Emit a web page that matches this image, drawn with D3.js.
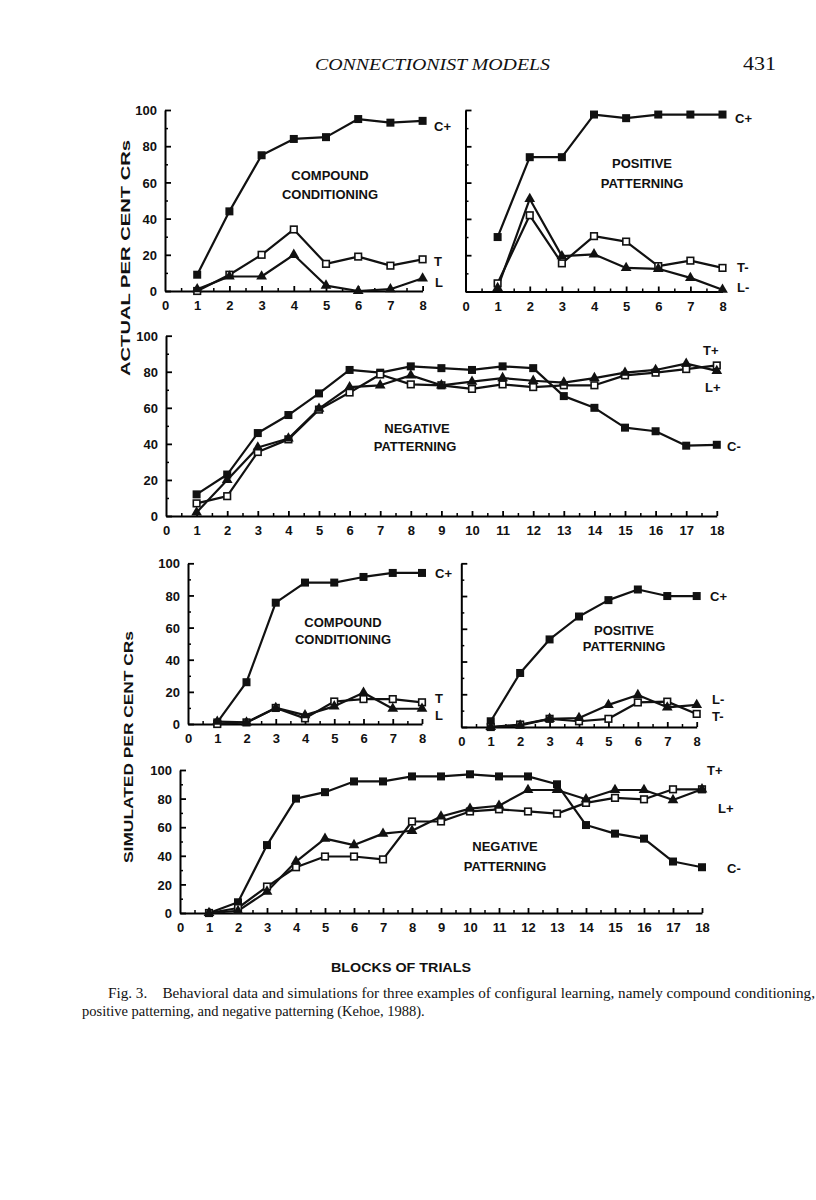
<!DOCTYPE html>
<html>
<head>
<meta charset="utf-8">
<script src="https://cdn.jsdelivr.net/npm/d3@7/dist/d3.min.js"></script>
<style>
  html, body { margin: 0; padding: 0; background: #fff; }
  svg { display: block; }
  .tick text { font-family: "Liberation Sans", Arial, sans-serif; font-weight: bold; font-size: 13px; fill: #111; }
  .lbl { font-family: "Liberation Sans", Arial, sans-serif; font-weight: bold; font-size: 13px; fill: #111; }
  .cap { white-space: pre; }
</style>
</head>
<body>
<script>
// ---------- DATA ----------
const blocks8 = [1, 2, 3, 4, 5, 6, 7, 8];
const blocks18 = [1, 2, 3, 4, 5, 6, 7, 8, 9, 10, 11, 12, 13, 14, 15, 16, 17, 18];
const yTicks = [0, 20, 40, 60, 80, 100];
const xTicks8 = [0, 1, 2, 3, 4, 5, 6, 7, 8];
const xTicks18 = [0, 1, 2, 3, 4, 5, 6, 7, 8, 9, 10, 11, 12, 13, 14, 15, 16, 17, 18];

// Actual: compound conditioning
const actCC_C = [9, 44, 75, 84, 85, 95, 93, 94];
const actCC_T = [0, 9, 20, 34, 15, 19, 14, 17.5];
const actCC_L = [1, 8, 8, 20, 3, 0, 1, 7];
// Actual: positive patterning
const actPP_C = [30, 74, 74, 97.5, 95.5, 97.5, 97.5, 97.5];
const actPP_T = [4.5, 42, 15.5, 30.5, 27.5, 14, 17, 13];
const actPP_L = [2, 51, 19.5, 20.5, 13, 12.5, 7.5, 1];
// Actual: negative patterning
const actNP_C = [12, 23, 46, 56, 68, 81, 79.5, 83, 82, 81, 83, 82, 66.5, 60, 49, 47, 39, 39.5];
const actNP_T = [7, 11, 35.5, 42.5, 59, 68.5, 78.5, 73, 72.5, 70.5, 73, 71.5, 72.5, 72.5, 78, 79.5, 81.5, 83.5];
const actNP_L = [2, 20, 38, 43, 59.5, 71.5, 72.5, 78, 72.5, 74.5, 76.5, 75, 74, 76.5, 79.5, 81, 84.5, 80.5];
// Simulated: compound conditioning
const simCC_C = [1, 26, 75.5, 88, 88, 91.5, 94, 94];
const simCC_T = [0, 1, 10, 3.5, 14, 15.5, 15.5, 13.5];
const simCC_L = [1.5, 1, 10, 5.5, 11, 19.5, 9.5, 9.5];
// Simulated: positive patterning
const simPP_C = [3.5, 33, 53.5, 67.5, 77.5, 84, 80, 80];
const simPP_T = [0, 1.5, 5, 3.5, 5, 15, 15.5, 8];
const simPP_L = [0, 1, 5, 5.5, 13.5, 19.5, 12, 13.5];
// Simulated: negative patterning
const simNP_C = [0, 7.5, 47.5, 80, 84.5, 92, 92, 95.5, 95.5, 97, 95.5, 95.5, 90, 61.5, 55.5, 52, 36, 32];
const simNP_T = [0, 3.5, 18.5, 32, 39.5, 39.5, 37.5, 64, 64, 71, 72.5, 71, 69.5, 77, 80.5, 79.5, 86.5, 86.5];
const simNP_L = [0, 1.5, 15, 36, 52, 47.5, 55.5, 57.5, 67.5, 73, 75, 86, 86, 79.5, 86, 86, 79, 86.5];

// ---------- LAYOUT ----------
const W = 816, H = 1200;
const svg = d3.select("body").append("svg").attr("width", W).attr("height", H);

const panels = [
  { x0: 165, x1: 422.6, y0: 291, y1: 110, blocks: blocks8, xt: xTicks8, yLab: true,
    series: [["sq", actCC_C], ["open", actCC_T], ["tri", actCC_L]],
    labels: [["C+", 434, 131], ["T", 434, 266], ["L", 435, 287]],
    title: [["COMPOUND", 330, 180], ["CONDITIONING", 330, 199]] },
  { x0: 465.5, x1: 722.5, y0: 291.5, y1: 110, blocks: blocks8, xt: xTicks8, yLab: false,
    series: [["sq", actPP_C], ["open", actPP_T], ["tri", actPP_L]],
    labels: [["C+", 735, 123], ["T-", 737, 272], ["L-", 737, 292]],
    title: [["POSITIVE", 642, 168], ["PATTERNING", 642, 188]] },
  { x0: 166, x1: 716.8, y0: 516, y1: 335.7, blocks: blocks18, xt: xTicks18, yLab: true,
    series: [["sq", actNP_C], ["open", actNP_T], ["tri", actNP_L]],
    labels: [["T+", 703, 355], ["L+", 705, 392], ["C-", 727, 451]],
    title: [["NEGATIVE", 417, 433], ["PATTERNING", 415, 451]] },
  { x0: 188, x1: 422, y0: 724, y1: 563.3, blocks: blocks8, xt: xTicks8, yLab: true,
    series: [["sq", simCC_C], ["open", simCC_T], ["tri", simCC_L]],
    labels: [["C+", 435, 578], ["T", 435, 703], ["L", 435, 720]],
    title: [["COMPOUND", 343, 627], ["CONDITIONING", 343, 644]] },
  { x0: 461.3, x1: 696.7, y0: 727, y1: 563.3, blocks: blocks8, xt: xTicks8, yLab: false,
    series: [["sq", simPP_C], ["open", simPP_T], ["tri", simPP_L]],
    labels: [["C+", 710, 601], ["L-", 712, 704], ["T-", 712, 721]],
    title: [["POSITIVE", 624, 635], ["PATTERNING", 624, 651]] },
  { x0: 180, x1: 702, y0: 913, y1: 770, blocks: blocks18, xt: xTicks18, yLab: true,
    series: [["sq", simNP_C], ["open", simNP_T], ["tri", simNP_L]],
    labels: [["T+", 707, 775], ["L+", 718, 813], ["C-", 727, 873]],
    title: [["NEGATIVE", 505, 851], ["PATTERNING", 505, 871]] }
];

function drawPanel(p) {
  const nMax = p.blocks.length;
  const x = d3.scaleLinear().domain([0, nMax]).range([p.x0, p.x1]);
  const y = d3.scaleLinear().domain([0, 100]).range([p.y0, p.y1]);
  const g = svg.append("g");

  const yMinor = d3.range(10, 100, 20);
  g.append("g").attr("transform", `translate(${x(0)},0)`)
    .call(d3.axisRight(y).tickValues(yTicks).tickSize(6).tickSizeOuter(0).tickFormat(""))
    .call(a => a.select(".domain").attr("stroke-width", 2))
    .call(a => a.selectAll(".tick line").attr("stroke-width", 1.8));
  g.append("g").attr("transform", `translate(${x(0)},0)`)
    .call(d3.axisRight(y).tickValues(yMinor).tickSize(3).tickSizeOuter(0).tickFormat(""))
    .call(a => a.select(".domain").remove())
    .call(a => a.selectAll(".tick line").attr("stroke-width", 1.5));
  if (p.yLab) {
    g.append("g").attr("transform", `translate(${x(0)},0)`)
      .call(d3.axisLeft(y).tickValues(yTicks).tickSize(0).tickPadding(8))
      .call(a => a.select(".domain").remove())
      .call(a => a.selectAll(".tick text").attr("dy", "0.36em"));
  }
  const xMinor = d3.range(0.5, nMax, 0.5).filter(v => v % 1 !== 0);
  g.append("g").attr("transform", `translate(0,${y(0)})`)
    .call(d3.axisTop(x).tickValues(p.xt.slice(1)).tickSize(5).tickSizeOuter(0).tickFormat(""))
    .call(a => a.select(".domain").attr("stroke-width", 2))
    .call(a => a.selectAll(".tick line").attr("stroke-width", 1.8));
  g.append("g").attr("transform", `translate(0,${y(0)})`)
    .call(d3.axisTop(x).tickValues(xMinor).tickSize(3).tickSizeOuter(0).tickFormat(""))
    .call(a => a.select(".domain").remove())
    .call(a => a.selectAll(".tick line").attr("stroke-width", 1.5));
  g.append("g").attr("transform", `translate(0,${y(0)})`)
    .call(d3.axisBottom(x).tickValues(p.xt).tickSize(0).tickPadding(10))
    .call(a => a.select(".domain").remove());

  const line = d3.line().x((d, i) => x(p.blocks[i])).y(d => y(d));
  p.series.forEach(([kind, vals]) => {
    g.append("path").datum(vals).attr("d", line)
      .attr("fill", "none").attr("stroke", "#111").attr("stroke-width", 2.2)
      .attr("stroke-linejoin", "round");
  });
  p.series.forEach(([kind, vals]) => {
    const m = g.append("g");
    vals.forEach((v, i) => {
      const cx = x(p.blocks[i]), cy = y(v);
      if (kind === "sq") {
        m.append("rect").attr("x", cx - 4).attr("y", cy - 4).attr("width", 8).attr("height", 8).attr("fill", "#111");
      } else if (kind === "open") {
        m.append("rect").attr("x", cx - 3.3).attr("y", cy - 3.3).attr("width", 6.6).attr("height", 6.6)
          .attr("fill", "#fff").attr("stroke", "#111").attr("stroke-width", 1.6);
      } else {
        m.append("path").attr("transform", `translate(${cx},${cy})`)
          .attr("d", d3.symbol(d3.symbolTriangle, 50)()).attr("fill", "#111");
      }
    });
  });

  p.labels.forEach(([t, lx, ly]) => {
    g.append("text").attr("class", "lbl").attr("x", lx).attr("y", ly).text(t);
  });
  p.title.forEach(([t, tx, ty]) => {
    g.append("text").attr("class", "lbl").attr("x", tx).attr("y", ty)
      .attr("text-anchor", "middle").text(t);
  });
}
panels.forEach(drawPanel);

// ---------- TEXTS ----------
svg.append("text").attr("x", 315).attr("y", 70)
  .attr("font-family", "Liberation Serif, serif").attr("font-style", "italic").attr("font-size", 17.5)
  .attr("textLength", 235).attr("lengthAdjust", "spacingAndGlyphs").attr("fill", "#111")
  .text("CONNECTIONIST MODELS");
svg.append("text").attr("x", 743).attr("y", 70)
  .attr("font-family", "Liberation Serif, serif").attr("font-size", 18).attr("fill", "#111")
  .attr("textLength", 33).attr("lengthAdjust", "spacingAndGlyphs")
  .text("431");

svg.append("text").attr("transform", "translate(130,258) rotate(-90)")
  .attr("class", "lbl").attr("text-anchor", "middle").attr("font-size", 14.5)
  .attr("textLength", 236).attr("lengthAdjust", "spacingAndGlyphs")
  .text("ACTUAL PER CENT CRs");
svg.append("text").attr("transform", "translate(133,747) rotate(-90)")
  .attr("class", "lbl").attr("text-anchor", "middle").attr("font-size", 14.5)
  .attr("textLength", 232).attr("lengthAdjust", "spacingAndGlyphs")
  .text("SIMULATED PER CENT CRs");

svg.append("text").attr("x", 401).attr("y", 972)
  .attr("class", "lbl").attr("text-anchor", "middle").attr("font-size", 15)
  .attr("textLength", 140).attr("lengthAdjust", "spacingAndGlyphs")
  .text("BLOCKS OF TRIALS");

svg.append("text").attr("class", "cap").attr("x", 108).attr("y", 998)
  .attr("font-family", "Liberation Serif, serif").attr("font-size", 14.5).attr("fill", "#111")
  .attr("textLength", 707).attr("lengthAdjust", "spacingAndGlyphs")
  .text("Fig. 3.    Behavioral data and simulations for three examples of configural learning, namely compound conditioning,");
svg.append("text").attr("class", "cap").attr("x", 82).attr("y", 1016)
  .attr("font-family", "Liberation Serif, serif").attr("font-size", 14.5).attr("fill", "#111")
  .text("positive patterning, and negative patterning (Kehoe, 1988).");
</script>
</body>
</html>
